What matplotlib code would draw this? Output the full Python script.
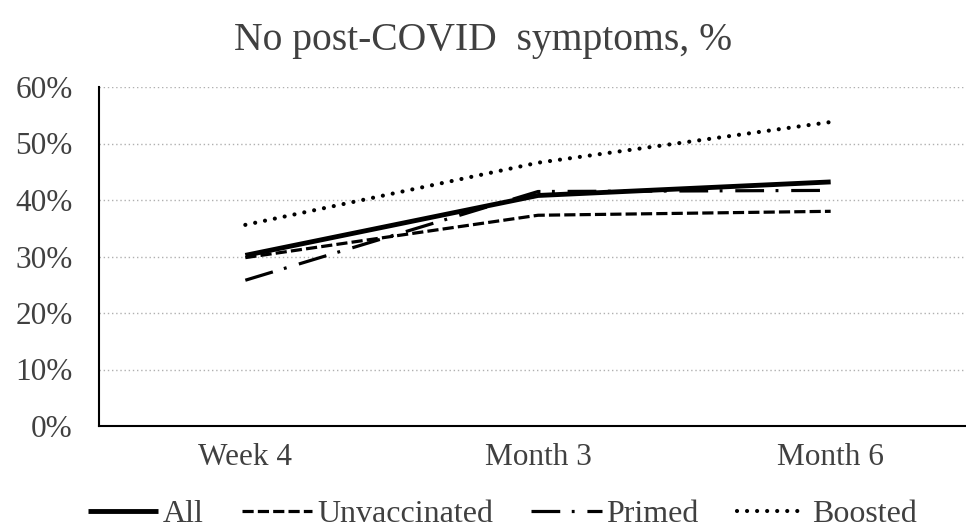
import matplotlib
matplotlib.use("Agg")
import matplotlib.pyplot as plt
from matplotlib.ticker import PercentFormatter

plt.rcParams['font.family'] = ['Liberation Serif', 'DejaVu Serif']

# data
categories = ["Week 4", "Month 3", "Month 6"]
all_vals = [30.2, 40.8, 43.2]
unvacc = [29.8, 37.3, 38.0]
primed = [25.8, 41.5, 41.7]
boosted = [35.6, 46.6, 53.8]

txt = "#404040"

fig = plt.figure(figsize=(9.66, 5.29), dpi=100)
ax = fig.add_axes([99/966, 1-426/529, 878/966, 339/529])

x = range(len(categories))
ax.plot(x, all_vals, color="black", lw=3.5, ls="-", label="All", solid_capstyle="butt")
ax.plot(x, unvacc, color="black", lw=2.3, ls=(0, (3.5, 1.3)), label="Unvaccinated")
ax.plot(x, primed, color="black", lw=2.3, ls=(0, (9, 3.6, 0.9, 4)), label="Primed")
ax.plot(x, boosted, color="black", lw=3.0, ls=(0, (0.01, 2.4)), dash_capstyle="round", label="Boosted")

ax.set_xlim(-0.5, 2.5)
ax.set_ylim(0, 60)
ax.set_yticks(range(0, 61, 10))
ax.yaxis.set_major_formatter(PercentFormatter(decimals=0))
ax.set_xticks(list(x))
ax.set_xticklabels(categories)
ax.tick_params(length=0, labelsize=22.5, labelcolor=txt)
ax.tick_params(axis="x", pad=12)
ax.tick_params(axis="y", pad=19)
ax.grid(axis="y", color="#b0b0b0", ls=(0, (1, 2)), lw=1)
ax.set_axisbelow(True)
for s in ["top", "right"]:
    ax.spines[s].set_visible(False)
ax.spines["left"].set_linewidth(1.5)
ax.spines["bottom"].set_linewidth(1.5)

fig.text(0.5, 1-40/529, "No post-COVID  symptoms, %", ha="center", va="center", fontsize=28.5, color=txt)

fig.legend(loc="center", bbox_to_anchor=(0.52, 1-514/529), ncol=4, frameon=False,
           fontsize=23, handlelength=2.2, handletextpad=0.15, columnspacing=1.2,
           labelcolor=txt)

fig.savefig("out.png", dpi=100)
